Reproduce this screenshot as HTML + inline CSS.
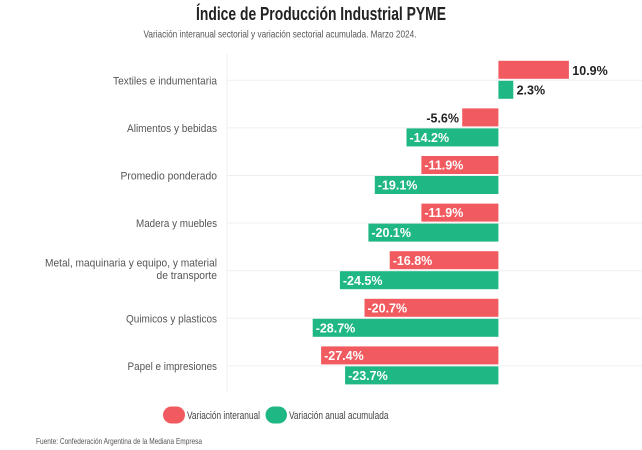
<!DOCTYPE html>
<html><head><meta charset="utf-8"><style>
html,body{margin:0;padding:0;background:#fff;}
svg{display:block;font-family:"Liberation Sans",sans-serif;}
</style></head><body>
<svg width="642" height="450" viewBox="0 0 642 450" xmlns="http://www.w3.org/2000/svg">
<rect width="642" height="450" fill="#fff"/>
<text x="321" y="20" text-anchor="middle" font-size="18" font-weight="bold" fill="#222" textLength="250" lengthAdjust="spacingAndGlyphs">Índice de Producción Industrial PYME</text>
<text x="280" y="37.5" text-anchor="middle" font-size="10.5" fill="#555" textLength="273" lengthAdjust="spacingAndGlyphs">Variación interanual sectorial y variación sectorial acumulada. Marzo 2024.</text>

<g stroke="#efefef" stroke-width="1">
<line x1="227" y1="54" x2="227" y2="392"/>
<line x1="227" y1="80.3" x2="642" y2="80.3"/>
<line x1="227" y1="127.9" x2="642" y2="127.9"/>
<line x1="227" y1="175.5" x2="642" y2="175.5"/>
<line x1="227" y1="223.1" x2="642" y2="223.1"/>
<line x1="227" y1="270.7" x2="642" y2="270.7"/>
<line x1="227" y1="318.3" x2="642" y2="318.3"/>
<line x1="227" y1="365.9" x2="642" y2="365.9"/>
</g>

<g font-size="11" fill="#555" text-anchor="end">
<text x="217" y="84.3" textLength="104" lengthAdjust="spacingAndGlyphs">Textiles e indumentaria</text>
<text x="217" y="131.9" textLength="90" lengthAdjust="spacingAndGlyphs">Alimentos y bebidas</text>
<text x="217" y="179.5" textLength="96.5" lengthAdjust="spacingAndGlyphs">Promedio ponderado</text>
<text x="217" y="227.1" textLength="81" lengthAdjust="spacingAndGlyphs">Madera y muebles</text>
<text x="217" y="266.7" textLength="172" lengthAdjust="spacingAndGlyphs">Metal, maquinaria y equipo, y material</text>
<text x="217" y="279" textLength="60.5" lengthAdjust="spacingAndGlyphs">de transporte</text>
<text x="217" y="322.3" textLength="91" lengthAdjust="spacingAndGlyphs">Quimicos y plasticos</text>
<text x="217" y="369.9" textLength="89.5" lengthAdjust="spacingAndGlyphs">Papel e impresiones</text>
</g>

<g>
<!-- Textiles -->
<rect x="498.4" y="60.8" width="70.5" height="18" fill="#f15b60"/>
<rect x="498.4" y="80.8" width="14.9" height="18" fill="#1fb783"/>
<!-- Alimentos -->
<rect x="462.2" y="108.4" width="36.2" height="18" fill="#f15b60"/>
<rect x="406.5" y="128.4" width="91.9" height="18" fill="#1fb783"/>
<!-- Promedio -->
<rect x="421.4" y="156" width="77" height="18" fill="#f15b60"/>
<rect x="374.8" y="176" width="123.6" height="18" fill="#1fb783"/>
<!-- Madera -->
<rect x="421.4" y="203.6" width="77" height="18" fill="#f15b60"/>
<rect x="368.4" y="223.6" width="130" height="18" fill="#1fb783"/>
<!-- Metal -->
<rect x="389.7" y="251.2" width="108.7" height="18" fill="#f15b60"/>
<rect x="339.9" y="271.2" width="158.5" height="18" fill="#1fb783"/>
<!-- Quimicos -->
<rect x="364.5" y="298.8" width="133.9" height="18" fill="#f15b60"/>
<rect x="312.7" y="318.8" width="185.7" height="18" fill="#1fb783"/>
<!-- Papel -->
<rect x="321.1" y="346.4" width="177.3" height="18" fill="#f15b60"/>
<rect x="345.1" y="366.4" width="153.3" height="18" fill="#1fb783"/>
</g>

<g font-size="12.5" font-weight="bold">
<text x="572.3" y="74.8" fill="#222">10.9%</text>
<text x="516.6" y="94.4" fill="#222">2.3%</text>
<text x="459" y="122.4" fill="#222" text-anchor="end">-5.6%</text>
<text x="409.5" y="142" fill="#fff">-14.2%</text>
<text x="424.4" y="169.6" fill="#fff">-11.9%</text>
<text x="377.8" y="189.6" fill="#fff">-19.1%</text>
<text x="424.4" y="217.2" fill="#fff">-11.9%</text>
<text x="371.4" y="237.2" fill="#fff">-20.1%</text>
<text x="392.7" y="264.8" fill="#fff">-16.8%</text>
<text x="342.9" y="284.8" fill="#fff">-24.5%</text>
<text x="367.5" y="312.4" fill="#fff">-20.7%</text>
<text x="315.7" y="332.4" fill="#fff">-28.7%</text>
<text x="324.1" y="360" fill="#fff">-27.4%</text>
<text x="348.1" y="380" fill="#fff">-23.7%</text>
</g>

<rect x="163" y="406.5" width="22" height="17" rx="8.5" fill="#f15b60"/>
<text x="187" y="419" font-size="11" fill="#444" textLength="73" lengthAdjust="spacingAndGlyphs">Variación interanual</text>
<rect x="265.5" y="406.5" width="21.5" height="17" rx="8.5" fill="#1fb783"/>
<text x="289" y="419" font-size="11" fill="#444" textLength="99.5" lengthAdjust="spacingAndGlyphs">Variación anual acumulada</text>

<text x="36" y="444" font-size="8.5" fill="#555" textLength="166" lengthAdjust="spacingAndGlyphs">Fuente: Confederación Argentina de la Mediana Empresa</text>
</svg>
</body></html>
